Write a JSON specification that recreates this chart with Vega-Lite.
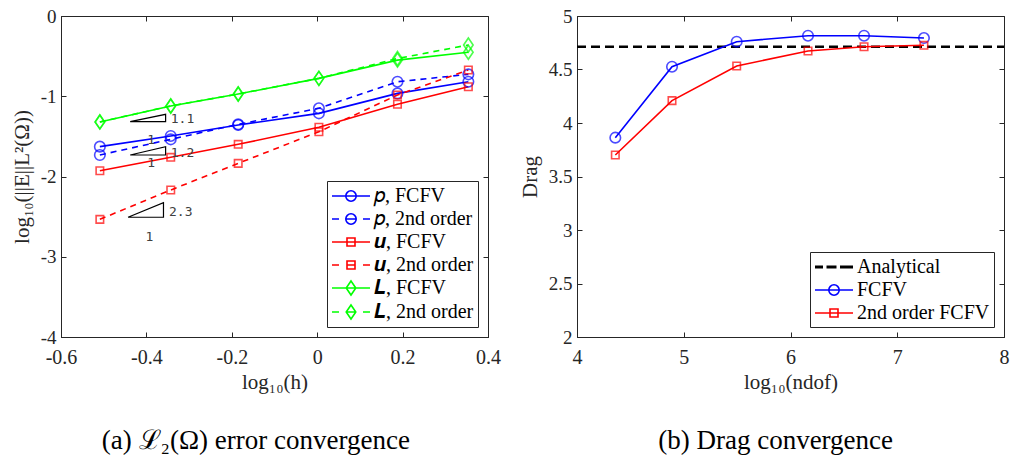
{
  "$schema": "https://vega.github.io/schema/vega-lite/v6.json",
  "background": "white",
  "padding": {"left": 10, "top": 6, "right": 0, "bottom": 5},
  "spacing": 17,
  "config": {
    "font": "Liberation Serif",
    "view": {"stroke": "#262626", "strokeWidth": 1},
    "axis": {
      "labelFont": "Liberation Serif", "labelFontSize": 20, "labelColor": "#262626", "labelFlush": false,
      "titleFont": "Liberation Serif", "titleFontSize": 21, "titleColor": "#262626", "titleFontWeight": "normal",
      "gridColor": "#dfdfdf", "gridWidth": 1, "tickColor": "#262626", "tickSize": -5, "tickWidth": 1,
      "domainColor": "#262626", "labelPadding": 10, "titlePadding": 8
    },
    "axisX": {"labelPadding": 15, "titlePadding": 4},
    "axisY": {"labelFontSize": 19},
    "legend": {
      "title": null, "orient": "bottom-right", "offset": 10,
      "symbolSize": 400, "symbolStrokeWidth": 1.6, "symbolOpacity": 1, "symbolFillColor": "transparent",
      "labelFont": "Liberation Serif", "labelFontSize": 20, "labelColor": "#000000",
      "strokeColor": "#262626", "fillColor": "white", "padding": 4, "rowPadding": 2, "labelOffset": 21, "cornerRadius": 0
    }
  },
  "datasets": {
    "err": [
      {"s": "𝑝, FCFV", "x": -0.509, "y": -1.628},
      {"s": "𝑝, FCFV", "x": -0.343, "y": -1.495},
      {"s": "𝑝, FCFV", "x": -0.185, "y": -1.358},
      {"s": "𝑝, FCFV", "x": 0.004, "y": -1.213},
      {"s": "𝑝, FCFV", "x": 0.188, "y": -0.964},
      {"s": "𝑝, FCFV", "x": 0.354, "y": -0.819},
      {"s": "𝑝, 2nd order", "x": -0.509, "y": -1.732},
      {"s": "𝑝, 2nd order", "x": -0.343, "y": -1.537},
      {"s": "𝑝, 2nd order", "x": -0.185, "y": -1.350},
      {"s": "𝑝, 2nd order", "x": 0.004, "y": -1.150},
      {"s": "𝑝, 2nd order", "x": 0.188, "y": -0.819},
      {"s": "𝑝, 2nd order", "x": 0.354, "y": -0.727},
      {"s": "𝒖, FCFV", "x": -0.509, "y": -1.928},
      {"s": "𝒖, FCFV", "x": -0.343, "y": -1.761},
      {"s": "𝒖, FCFV", "x": -0.185, "y": -1.599},
      {"s": "𝒖, FCFV", "x": 0.004, "y": -1.387},
      {"s": "𝒖, FCFV", "x": 0.188, "y": -1.100},
      {"s": "𝒖, FCFV", "x": 0.354, "y": -0.881},
      {"s": "𝒖, 2nd order", "x": -0.509, "y": -2.534},
      {"s": "𝒖, 2nd order", "x": -0.343, "y": -2.168},
      {"s": "𝒖, 2nd order", "x": -0.185, "y": -1.836},
      {"s": "𝒖, 2nd order", "x": 0.004, "y": -1.442},
      {"s": "𝒖, 2nd order", "x": 0.188, "y": -0.984},
      {"s": "𝒖, 2nd order", "x": 0.354, "y": -0.673},
      {"s": "𝑳, FCFV", "x": -0.509, "y": -1.320},
      {"s": "𝑳, FCFV", "x": -0.343, "y": -1.121},
      {"s": "𝑳, FCFV", "x": -0.185, "y": -0.972},
      {"s": "𝑳, FCFV", "x": 0.004, "y": -0.777},
      {"s": "𝑳, FCFV", "x": 0.188, "y": -0.550},
      {"s": "𝑳, FCFV", "x": 0.354, "y": -0.452},
      {"s": "𝑳, 2nd order", "x": -0.509, "y": -1.320},
      {"s": "𝑳, 2nd order", "x": -0.343, "y": -1.121},
      {"s": "𝑳, 2nd order", "x": -0.185, "y": -0.972},
      {"s": "𝑳, 2nd order", "x": 0.004, "y": -0.777},
      {"s": "𝑳, 2nd order", "x": 0.188, "y": -0.530},
      {"s": "𝑳, 2nd order", "x": 0.354, "y": -0.361}
    ],
    "tri": [
      {"tri": "t1", "k": 0, "x": -0.438, "y": -1.317},
      {"tri": "t1", "k": 1, "x": -0.355, "y": -1.317},
      {"tri": "t1", "k": 2, "x": -0.355, "y": -1.225},
      {"tri": "t1", "k": 3, "x": -0.438, "y": -1.317},
      {"tri": "t2", "k": 0, "x": -0.438, "y": -1.732},
      {"tri": "t2", "k": 1, "x": -0.355, "y": -1.732},
      {"tri": "t2", "k": 2, "x": -0.355, "y": -1.629},
      {"tri": "t2", "k": 3, "x": -0.438, "y": -1.732},
      {"tri": "t3", "k": 0, "x": -0.443, "y": -2.508},
      {"tri": "t3", "k": 1, "x": -0.360, "y": -2.508},
      {"tri": "t3", "k": 2, "x": -0.360, "y": -2.327},
      {"tri": "t3", "k": 3, "x": -0.443, "y": -2.508}
    ],
    "notes": [
      {"t": "1.1", "x": -0.343, "y": -1.287},
      {"t": "1", "x": -0.398, "y": -1.545},
      {"t": "1.2", "x": -0.343, "y": -1.711},
      {"t": "1", "x": -0.398, "y": -1.836},
      {"t": "2.3", "x": -0.347, "y": -2.446},
      {"t": "1", "x": -0.402, "y": -2.750}
    ],
    "drag": [
      {"s": "Analytical", "x": 4, "y": 4.713},
      {"s": "Analytical", "x": 8, "y": 4.713},
      {"s": "FCFV", "x": 4.359, "y": 3.863},
      {"s": "FCFV", "x": 4.890, "y": 4.526},
      {"s": "FCFV", "x": 5.496, "y": 4.760},
      {"s": "FCFV", "x": 6.164, "y": 4.816},
      {"s": "FCFV", "x": 6.689, "y": 4.816},
      {"s": "FCFV", "x": 7.250, "y": 4.794},
      {"s": "2nd order FCFV", "x": 4.359, "y": 3.701},
      {"s": "2nd order FCFV", "x": 4.890, "y": 4.209},
      {"s": "2nd order FCFV", "x": 5.496, "y": 4.533},
      {"s": "2nd order FCFV", "x": 6.164, "y": 4.673},
      {"s": "2nd order FCFV", "x": 6.689, "y": 4.713},
      {"s": "2nd order FCFV", "x": 7.250, "y": 4.726}
    ]
  },
  "resolve": {"scale": {"color": "independent", "shape": "independent"}},
  "hconcat": [
    {
      "width": 427,
      "height": 321,
      "title": {"text": "(a) ℒ₂(Ω) error convergence", "orient": "bottom", "frame": "bounds", "anchor": "middle", "font": "Liberation Serif", "fontSize": 27, "fontWeight": "normal", "color": "#000000", "offset": 36},
      "resolve": {"axis": {"x": "independent", "y": "independent"}},
      "layer": [
        {
          "data": {"name": "tri"},
          "mark": {"type": "line", "color": "#000000", "strokeWidth": 1.2},
          "encoding": {
            "x": {"field": "x", "type": "quantitative", "scale": {"domain": [-0.6, 0.4], "nice": false, "zero": false},
                  "axis": {"orient": "top", "labels": false, "grid": false, "domain": false, "title": null, "values": [-0.6, -0.4, -0.2, 0, 0.2, 0.4]}},
            "y": {"field": "y", "type": "quantitative", "scale": {"domain": [-4, 0], "nice": false, "zero": false},
                  "axis": {"orient": "right", "labels": false, "grid": false, "domain": false, "title": null, "values": [-4, -3, -2, -1, 0]}},
            "detail": {"field": "tri"},
            "order": {"field": "k", "type": "quantitative"}
          }
        },
        {
          "data": {"name": "err"},
          "layer": [
            {
              "transform": [{"filter": {"field": "s", "oneOf": ["𝑝, FCFV", "𝒖, FCFV", "𝑳, FCFV"]}}],
              "mark": {"type": "line", "strokeWidth": 1.6},
              "encoding": {
                "x": {"field": "x", "type": "quantitative", "scale": {"domain": [-0.6, 0.4], "nice": false, "zero": false},
                      "axis": {"orient": "bottom", "title": "log₁₀(h)", "values": [-0.6, -0.4, -0.2, 0, 0.2, 0.4], "format": ".1~f", "labelExpr": "replace(datum.label, '−', '-')"}},
                "y": {"field": "y", "type": "quantitative", "scale": {"domain": [-4, 0], "nice": false, "zero": false},
                      "axis": {"orient": "left", "title": "log₁₀(||E||L²(Ω))", "values": [-4, -3, -2, -1, 0], "format": "d", "labelExpr": "replace(datum.label, '−', '-')"}},
                "color": {"field": "s", "type": "nominal",
                          "scale": {"domain": ["𝑝, FCFV", "𝑝, 2nd order", "𝒖, FCFV", "𝒖, 2nd order", "𝑳, FCFV", "𝑳, 2nd order"],
                                    "range": ["#0000ff", "#0000ff", "#ff0000", "#ff0000", "#00ff00", "#00ff00"]}}
              }
            },
            {
              "transform": [{"filter": {"field": "s", "oneOf": ["𝑝, 2nd order", "𝒖, 2nd order", "𝑳, 2nd order"]}}],
              "mark": {"type": "line", "strokeWidth": 1.6, "strokeDash": [6, 5]},
              "encoding": {
                "x": {"field": "x", "type": "quantitative"},
                "y": {"field": "y", "type": "quantitative"},
                "color": {"field": "s", "type": "nominal"}
              }
            },
            {
              "transform": [{"filter": {"field": "s", "oneOf": ["𝑝, FCFV", "𝑝, 2nd order"]}}],
              "mark": {"type": "point", "shape": "circle", "size": 110, "filled": false, "strokeWidth": 1.6},
              "encoding": {
                "x": {"field": "x", "type": "quantitative"},
                "y": {"field": "y", "type": "quantitative"},
                "color": {"field": "s", "type": "nominal"}
              }
            },
            {
              "transform": [{"filter": {"field": "s", "oneOf": ["𝒖, FCFV", "𝒖, 2nd order"]}}],
              "mark": {"type": "point", "shape": "square", "size": 56, "filled": false, "strokeWidth": 1.6},
              "encoding": {
                "x": {"field": "x", "type": "quantitative"},
                "y": {"field": "y", "type": "quantitative"},
                "color": {"field": "s", "type": "nominal"}
              }
            },
            {
              "transform": [{"filter": {"field": "s", "oneOf": ["𝑳, FCFV", "𝑳, 2nd order"]}}],
              "mark": {"type": "point", "shape": "M0,-1L0.68,0L0,1L-0.68,0Z", "size": 196, "filled": false, "strokeWidth": 1.6},
              "encoding": {
                "x": {"field": "x", "type": "quantitative"},
                "y": {"field": "y", "type": "quantitative"},
                "color": {"field": "s", "type": "nominal"}
              }
            },
            {
              "data": {"name": "notes"},
              "mark": {"type": "text", "font": "DejaVu Sans Mono", "fontSize": 13, "color": "#404040", "align": "left", "baseline": "middle"},
              "encoding": {
                "x": {"field": "x", "type": "quantitative"},
                "y": {"field": "y", "type": "quantitative"},
                "text": {"field": "t"}
              }
            },
            {
              "mark": {"type": "point", "filled": false, "opacity": 0, "size": 400, "strokeWidth": 1.6},
              "encoding": {
                "x": {"field": "x", "type": "quantitative"},
                "y": {"field": "y", "type": "quantitative"},
                "color": {"field": "s", "type": "nominal"},
                "shape": {"field": "s", "type": "nominal",
                          "scale": {"domain": ["𝑝, FCFV", "𝑝, 2nd order", "𝒖, FCFV", "𝒖, 2nd order", "𝑳, FCFV", "𝑳, 2nd order"],
                                    "range": [
                                      "M-1,0H2.8M1.42,0A0.52,0.52,0,1,1,0.38,0A0.52,0.52,0,1,1,1.42,0Z",
                                      "M-1,0H-0.3M0.38,0H1.42M2.1,0H2.8M1.42,0A0.52,0.52,0,1,1,0.38,0A0.52,0.52,0,1,1,1.42,0Z",
                                      "M-1,0H2.8M0.5,-0.4H1.3V0.4H0.5Z",
                                      "M-1,0H-0.3M0.5,0H1.3M2.1,0H2.8M0.5,-0.4H1.3V0.4H0.5Z",
                                      "M-1,0H2.8M0.9,-0.7L1.38,0L0.9,0.7L0.42,0Z",
                                      "M-1,0H-0.3M0.42,0H1.38M2.1,0H2.8M0.9,-0.7L1.38,0L0.9,0.7L0.42,0Z"
                                    ]}}
              }
            }
          ]
        }
      ]
    },
    {
      "width": 427,
      "height": 321,
      "title": {"text": "(b) Drag convergence", "orient": "bottom", "frame": "bounds", "anchor": "middle", "font": "Liberation Serif", "fontSize": 27, "fontWeight": "normal", "color": "#000000", "offset": 36},
      "resolve": {"axis": {"x": "independent", "y": "independent"}},
      "data": {"name": "drag"},
      "layer": [
        {
          "transform": [{"filter": "datum.s == 'Analytical'"}],
          "mark": {"type": "line", "color": "#000000", "strokeWidth": 2.6, "strokeDash": [9, 5]},
          "encoding": {
            "x": {"field": "x", "type": "quantitative", "scale": {"domain": [4, 8], "nice": false, "zero": false},
                  "axis": {"orient": "top", "labels": false, "grid": false, "domain": false, "title": null, "values": [4, 5, 6, 7, 8]}},
            "y": {"field": "y", "type": "quantitative", "scale": {"domain": [2, 5], "nice": false, "zero": false},
                  "axis": {"orient": "right", "labels": false, "grid": false, "domain": false, "title": null, "values": [2, 2.5, 3, 3.5, 4, 4.5, 5]}}
          }
        },
        {
          "layer": [
            {
              "transform": [{"filter": "datum.s != 'Analytical'"}],
              "mark": {"type": "line", "strokeWidth": 1.6},
              "encoding": {
                "x": {"field": "x", "type": "quantitative", "scale": {"domain": [4, 8], "nice": false, "zero": false},
                      "axis": {"orient": "bottom", "title": "log₁₀(ndof)", "values": [4, 5, 6, 7, 8], "format": "d"}},
                "y": {"field": "y", "type": "quantitative", "scale": {"domain": [2, 5], "nice": false, "zero": false},
                      "axis": {"orient": "left", "title": "Drag", "values": [2, 2.5, 3, 3.5, 4, 4.5, 5], "format": ".1~f"}},
                "color": {"field": "s", "type": "nominal",
                          "scale": {"domain": ["Analytical", "FCFV", "2nd order FCFV"], "range": ["#000000", "#0000ff", "#ff0000"]}}
              }
            },
            {
              "transform": [{"filter": "datum.s == 'FCFV'"}],
              "mark": {"type": "point", "shape": "circle", "size": 110, "filled": false, "strokeWidth": 1.6},
              "encoding": {
                "x": {"field": "x", "type": "quantitative"},
                "y": {"field": "y", "type": "quantitative"},
                "color": {"field": "s", "type": "nominal"}
              }
            },
            {
              "transform": [{"filter": "datum.s == '2nd order FCFV'"}],
              "mark": {"type": "point", "shape": "square", "size": 56, "filled": false, "strokeWidth": 1.6},
              "encoding": {
                "x": {"field": "x", "type": "quantitative"},
                "y": {"field": "y", "type": "quantitative"},
                "color": {"field": "s", "type": "nominal"}
              }
            },
            {
              "mark": {"type": "point", "filled": false, "opacity": 0, "size": 400, "strokeWidth": 1.6},
              "encoding": {
                "x": {"field": "x", "type": "quantitative"},
                "y": {"field": "y", "type": "quantitative"},
                "color": {"field": "s", "type": "nominal"},
                "shape": {"field": "s", "type": "nominal",
                          "scale": {"domain": ["Analytical", "FCFV", "2nd order FCFV"],
                                    "range": [
                                      "M-1,-0.07H-0.2M-1,0.07H-0.2M0.15,-0.07H1.15M0.15,0.07H1.15M1.5,-0.07H2.8M1.5,0.07H2.8",
                                      "M-1,0H2.8M1.42,0A0.52,0.52,0,1,1,0.38,0A0.52,0.52,0,1,1,1.42,0Z",
                                      "M-1,0H2.8M0.5,-0.4H1.3V0.4H0.5Z"
                                    ]}}
              }
            }
          ]
        }
      ]
    }
  ]
}
